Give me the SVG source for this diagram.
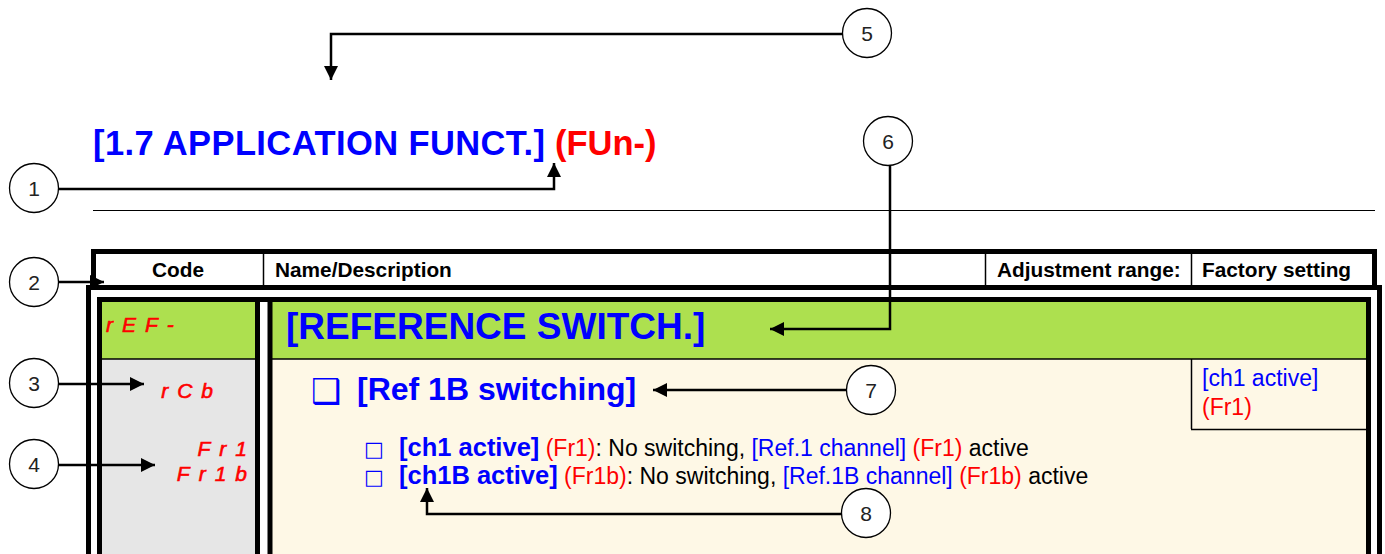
<svg xmlns="http://www.w3.org/2000/svg" width="1385" height="554" viewBox="0 0 1385 554">
<style>
.hd{font-family:"Liberation Sans",Arial,sans-serif;font-weight:bold;font-size:20.8px;fill:#000}
.num{font-family:"Liberation Sans",Arial,sans-serif;font-size:21px;fill:#222;text-anchor:middle}
.cir{fill:#fff;stroke:#000;stroke-width:1.3}
.con{fill:none;stroke:#000;stroke-width:2.5}
.seg{font-family:"Liberation Sans",Arial,sans-serif;font-style:italic;font-size:21px;fill:#ff0000;stroke:#ff0000;stroke-width:0.6;letter-spacing:9px}
.b{fill:#0000ff}
.r{fill:#ff0000}
.k{fill:#000}
.txt{font-family:"Liberation Sans",Arial,sans-serif;font-size:23px}
.bold{font-weight:bold}
.thick{stroke:#000;stroke-width:5;fill:none}
.thin{stroke:#000;stroke-width:1.5}
</style>
<defs>
<marker id="ah" markerUnits="userSpaceOnUse" markerWidth="16" markerHeight="14" refX="14" refY="7" orient="auto"><path d="M0,0 L14,7 L0,14 z" fill="#000"/></marker>
</defs>
<rect width="1385" height="554" fill="#fff"/>

<g id="title">
<text x="93" y="155" font-family="'Liberation Sans',Arial,sans-serif" font-weight="bold" font-size="34.5px"><tspan class="b" textLength="452">[1.7 APPLICATION FUNCT.]</tspan><tspan class="r" x="555">(FUn-)</tspan></text>
<line x1="93" y1="210.5" x2="1375" y2="210.5" stroke="#000" stroke-width="1"/>
</g>

<g id="table">
<rect x="93.5" y="251.5" width="1281" height="36" fill="#fff" class="thick"/>
<line x1="263.5" y1="254" x2="263.5" y2="285" class="thin"/>
<line x1="985.5" y1="254" x2="985.5" y2="285" class="thin"/>
<line x1="1191.5" y1="254" x2="1191.5" y2="285" class="thin"/>
<text x="178" y="277" class="hd" text-anchor="middle">Code</text>
<text x="275" y="277" class="hd">Name/Description</text>
<text x="997" y="277" class="hd">Adjustment range:</text>
<text x="1202" y="277" class="hd">Factory setting</text>

<rect x="88.5" y="287.5" width="1291" height="300" fill="#fff" class="thick"/>
<rect x="102" y="302" width="1264" height="57" fill="#ade04f"/>
<rect x="102" y="359" width="153" height="220" fill="#e6e6e6"/>
<rect x="260" y="302" width="8" height="277" fill="#fff"/>
<rect x="272" y="359" width="1094" height="220" fill="#fef8e6"/>
<rect x="99.5" y="299.5" width="1269" height="300" class="thick"/>
<line x1="257.5" y1="302" x2="257.5" y2="560" class="thick"/>
<line x1="270" y1="302" x2="270" y2="560" class="thick"/>
<line x1="102" y1="359" x2="255" y2="359" class="thin"/>
<line x1="272" y1="359" x2="1366" y2="359" class="thin"/>
<line x1="1191.5" y1="359" x2="1191.5" y2="429" class="thin"/>
<line x1="1191" y1="429.5" x2="1366" y2="429.5" class="thin"/>
</g>

<g id="codes">
<text x="106" y="332" class="seg">rEF-</text>
<text x="222" y="398" class="seg" text-anchor="end">rCb</text>
<text x="256" y="456" class="seg" text-anchor="end">Fr1</text>
<text x="256" y="481" class="seg" text-anchor="end">Fr1b</text>
</g>

<g id="menu">
<text x="286" y="339" font-family="'Liberation Sans',Arial,sans-serif" font-weight="bold" font-size="37px" class="b">[REFERENCE SWITCH.]</text>
</g>

<g id="param">
<text x="311" y="403" font-family="'DejaVu Sans',sans-serif" font-size="34px" class="b">❑</text>
<text x="357" y="400" font-family="'Liberation Sans',Arial,sans-serif" font-weight="bold" font-size="32px" class="b">[Ref 1B switching]</text>
</g>

<g id="factory">
<text x="1202" y="386" class="txt b" font-size="21.5px">[ch1 active]</text>
<text x="1202" y="415" class="txt r" font-size="21.5px">(Fr1)</text>
</g>

<g id="options">
<text x="364" y="456" font-family="'DejaVu Sans',sans-serif" font-size="21px" class="b">□</text>
<text x="399" y="456" class="txt"><tspan class="b bold" font-size="25.5px">[ch1 active]</tspan><tspan class="r"> (Fr1)</tspan><tspan class="k">: No switching, </tspan><tspan class="b">[Ref.1 channel]</tspan><tspan class="r"> (Fr1)</tspan><tspan class="k"> active</tspan></text>
<text x="364" y="484" font-family="'DejaVu Sans',sans-serif" font-size="21px" class="b">□</text>
<text x="399" y="484" class="txt"><tspan class="b bold" font-size="25.5px">[ch1B active]</tspan><tspan class="r"> (Fr1b)</tspan><tspan class="k">: No switching, </tspan><tspan class="b">[Ref.1B channel]</tspan><tspan class="r"> (Fr1b)</tspan><tspan class="k"> active</tspan></text>
</g>

<g id="connectors">
<path class="con" d="M59,189 H554 V163" marker-end="url(#ah)"/>
<path class="con" d="M59,282 H104" marker-end="url(#ah)"/>
<path class="con" d="M59,384 H144" marker-end="url(#ah)"/>
<path class="con" d="M59,465 H155" marker-end="url(#ah)"/>
<path class="con" d="M842,34 H331 V80" marker-end="url(#ah)"/>
<path class="con" d="M890,166 V329 H770" marker-end="url(#ah)"/>
<path class="con" d="M846,390 H653" marker-end="url(#ah)"/>
<path class="con" d="M842,514 H427 V488" marker-end="url(#ah)"/>
</g>

<g id="callout1"><circle cx="34" cy="188" r="24.5" class="cir"/><text x="34" y="196" class="num">1</text></g>
<g id="callout2"><circle cx="34" cy="282" r="24.5" class="cir"/><text x="34" y="290" class="num">2</text></g>
<g id="callout3"><circle cx="34" cy="383" r="24.5" class="cir"/><text x="34" y="391" class="num">3</text></g>
<g id="callout4"><circle cx="34" cy="464" r="24.5" class="cir"/><text x="34" y="472" class="num">4</text></g>
<g id="callout5"><circle cx="867" cy="33" r="24.5" class="cir"/><text x="867" y="41" class="num">5</text></g>
<g id="callout6"><circle cx="888" cy="141" r="24.5" class="cir"/><text x="888" y="149" class="num">6</text></g>
<g id="callout7"><circle cx="871" cy="390" r="24.5" class="cir"/><text x="871" y="398" class="num">7</text></g>
<g id="callout8"><circle cx="866" cy="513" r="24.5" class="cir"/><text x="866" y="521" class="num">8</text></g>
</svg>
